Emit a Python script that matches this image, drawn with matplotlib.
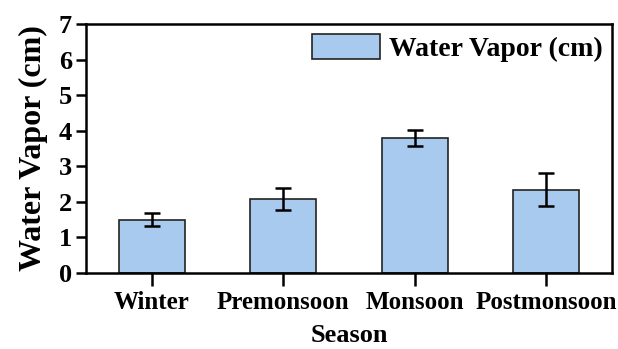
import numpy as np
import matplotlib
matplotlib.use("Agg")
import matplotlib.pyplot as plt

seasons = ["Winter", "Premonsoon", "Monsoon", "Postmonsoon"]
vapor   = [1.50, 2.08, 3.80, 2.34]
err     = [0.19, 0.32, 0.23, 0.46]

BAR  = "#A7CAEE"
EDGE = "#222222"

plt.rcParams.update({
    "font.family": "Liberation Serif", "font.weight": "bold",
    "axes.linewidth": 1.8,
})

fig = plt.figure(figsize=(6.18, 3.49), dpi=100)
ax = fig.add_axes([86/618, 1 - 273/349, 526/618, 249/349])

x = np.arange(len(seasons))
ax.bar(x, vapor, width=0.5, color=BAR, edgecolor=EDGE, linewidth=1.2,
       label="Water Vapor (cm)", zorder=2)
ax.errorbar(x, vapor, yerr=err, fmt="none", ecolor="black", elinewidth=1.8,
            capsize=5.5, capthick=1.8, zorder=3)

ax.set_xlim(-0.5, 3.5)
ax.set_ylim(0, 7)
ax.set_yticks(range(8))
ax.set_xticks(x)
ax.set_xticklabels(seasons)
ax.tick_params(axis="y", labelsize=19, width=1.8, length=7, pad=3, direction="out")
ax.tick_params(axis="x", labelsize=18, width=1.8, length=9, pad=4, direction="out")
ax.tick_params(top=False, right=False)
for lab in ax.get_xticklabels() + ax.get_yticklabels():
    lab.set_fontweight("bold")

ax.set_xlabel("Season", fontsize=19, fontweight="bold", labelpad=7)
ax.set_ylabel("Water Vapor (cm)", fontsize=23, fontweight="bold", labelpad=8)

ax.legend(loc="upper right", frameon=False, handlelength=2.45,
          handleheight=1.0, borderaxespad=0.05, borderpad=0.3, handletextpad=0.3,
          prop={"weight": "bold", "size": 20})

fig.savefig("out.png", dpi=100)
